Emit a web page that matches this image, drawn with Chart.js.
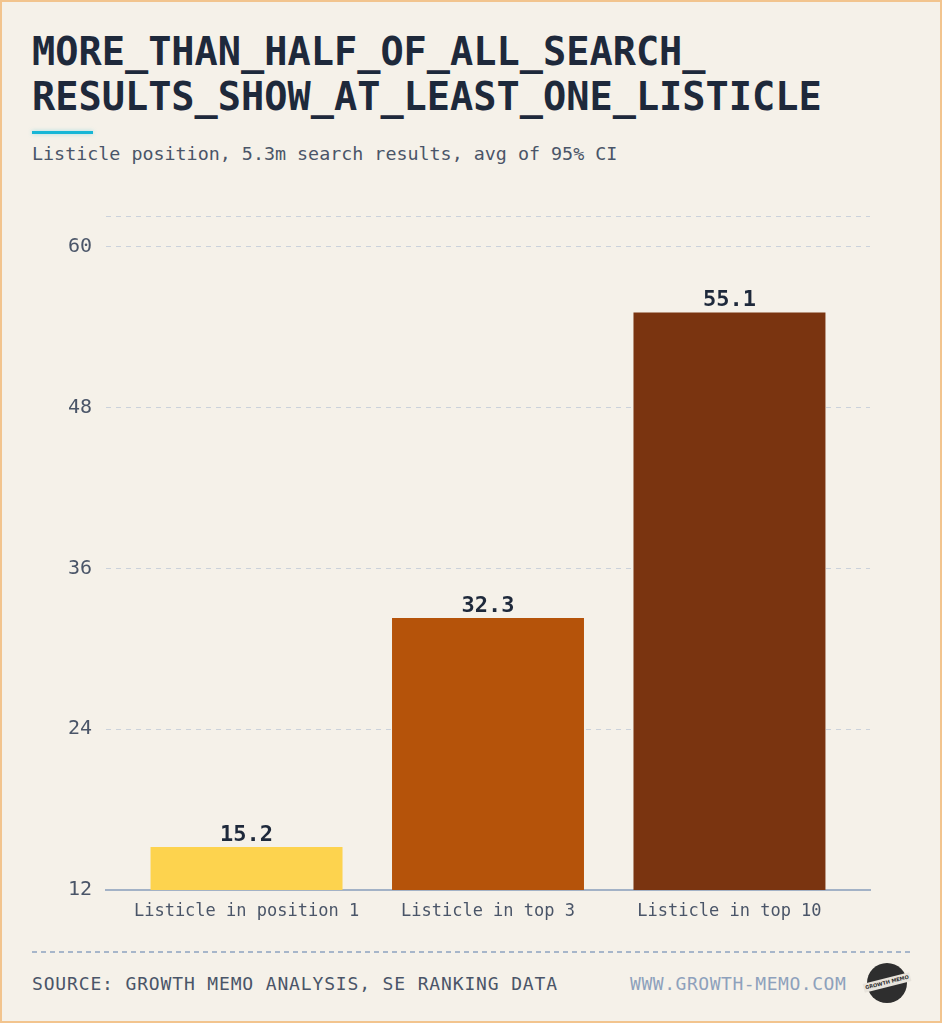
<!DOCTYPE html>
<html>
<head>
<meta charset="utf-8">
<script src="https://cdn.jsdelivr.net/npm/chart.js@4.4.1/dist/chart.umd.min.js"></script>
<style>
  html, body { margin: 0; padding: 0; background: #ffffff; }
  #card {
    position: relative;
    width: 942px; height: 1023px;
    box-sizing: border-box;
    border: 2px solid #f2c48e;
    background: #f5f1e9;
    font-family: "DejaVu Sans Mono", monospace;
    overflow: hidden;
  }
  #title {
    position: absolute; left: 30px; top: 27px;
    font-size: 38.6px; line-height: 45px; font-weight: bold;
    color: #1e293b; white-space: pre;
  }
  #accent {
    position: absolute; left: 30px; top: 129px; width: 61px; height: 3px;
    background: #17b6d6; box-shadow: 0 0 4px rgba(23, 182, 214, 0.35);
  }
  #subtitle {
    position: absolute; left: 30px; top: 142px;
    font-size: 18.35px; line-height: 20px; color: #4a5568; white-space: pre;
  }
  #chartBox { position: absolute; left: -2px; top: 188px; width: 943px; height: 740px; }
  #footLine {
    position: absolute; left: 30px; top: 949px; width: 879px; height: 2px;
    background: repeating-linear-gradient(90deg, #a7b6ca 0 5px, transparent 5px 9px);
  }
  #source {
    position: absolute; left: 30px; top: 972px;
    font-size: 18px; line-height: 20px; letter-spacing: 0.85px; color: #4a5568; white-space: pre;
  }
  #site {
    position: absolute; left: 628px; top: 972px;
    font-size: 18px; line-height: 20px; letter-spacing: 0.55px; color: #8ea1bc; white-space: pre;
  }
  #logo {
    position: absolute; left: 865px; top: 961px; width: 40px; height: 40px;
    border-radius: 50%; background: #2e2e2e;
  }
  #logo span {
    position: absolute; left: -4px; top: 15px; width: 48px; height: 9px;
    background: #e8e4dc; color: #2e2e2e; font: bold 5px "DejaVu Sans", sans-serif;
    line-height: 9px; text-align: center; transform: rotate(-14deg);
  }
</style>
</head>
<body>
<div id="card">
  <div id="title">MORE_THAN_HALF_OF_ALL_SEARCH_
RESULTS_SHOW_AT_LEAST_ONE_LISTICLE</div>
  <div id="accent"></div>
  <div id="subtitle">Listicle position, 5.3m search results, avg of 95% CI</div>
  <div id="chartBox"><canvas id="chart"></canvas></div>
  <div id="footLine"></div>
  <div id="source">SOURCE: GROWTH MEMO ANALYSIS, SE RANKING DATA</div>
  <div id="site">WWW.GROWTH-MEMO.COM</div>
  <div id="logo"><span>GROWTH MEMO</span></div>
</div>
<script>
const categories = ['Listicle in position 1', 'Listicle in top 3', 'Listicle in top 10'];
const shares = [15.2, 32.3, 55.1];
const barColors = ['#fdd34e', '#b5530a', '#7a3410'];
const yTicks = [12, 24, 36, 48, 60];
const yMin = 12;
const yMax = 62.3;

// value labels above each bar
const valueLabels = {
  id: 'valueLabels',
  afterDatasetsDraw(chart) {
    const ctx = chart.ctx;
    const meta = chart.getDatasetMeta(0);
    ctx.save();
    ctx.font = 'bold 22px "DejaVu Sans Mono"';
    ctx.fillStyle = '#1e293b';
    ctx.textAlign = 'center';
    ctx.textBaseline = 'alphabetic';
    meta.data.forEach((bar, i) => {
      ctx.fillText(shares[i].toFixed(1), bar.x, bar.y - 6);
    });
    ctx.restore();
  }
};

const ctx = document.getElementById('chart').getContext('2d');
new Chart(ctx, {
  type: 'bar',
  data: {
    datasets: [{
      data: shares.map((v, i) => ({ x: i, y: v })),
      backgroundColor: barColors,
      borderWidth: 0,
      barPercentage: 0.795,
      categoryPercentage: 1
    }]
  },
  options: {
    responsive: true,
    maintainAspectRatio: false,
    animation: false,
    layout: { padding: { top: 26, right: 73, left: 0, bottom: 0 } },
    plugins: { legend: { display: false }, tooltip: { enabled: false } },
    scales: {
      x: {
        type: 'linear',
        offset: false,
        min: -0.582,
        max: 2.582,
        afterBuildTicks: scale => { scale.ticks = categories.map((_, i) => ({ value: i })); },
        afterFit: scale => { scale.height = 40; },
        grid: { display: false, drawTicks: false },
        border: { display: true, color: '#a3b2c6', width: 2 },
        ticks: {
          padding: 11,
          color: '#4a5568',
          font: { family: 'DejaVu Sans Mono', size: 17 },
          callback: v => categories[v]
        }
      },
      y: {
        min: yMin,
        max: yMax,
        afterBuildTicks: scale => { scale.ticks = yTicks.concat([yMax]).map(v => ({ value: v })); },
        afterFit: scale => { scale.width = 106; },
        grid: { color: '#cbd2db', lineWidth: 1, drawTicks: false },
        border: { display: false, dash: [5, 5] },
        ticks: {
          padding: 14,
          color: '#4a5568',
          font: { family: 'DejaVu Sans Mono', size: 20 },
          callback: v => yTicks.includes(v) ? String(v) : ''
        }
      }
    }
  },
  plugins: [valueLabels]
});
</script>
</body>
</html>
